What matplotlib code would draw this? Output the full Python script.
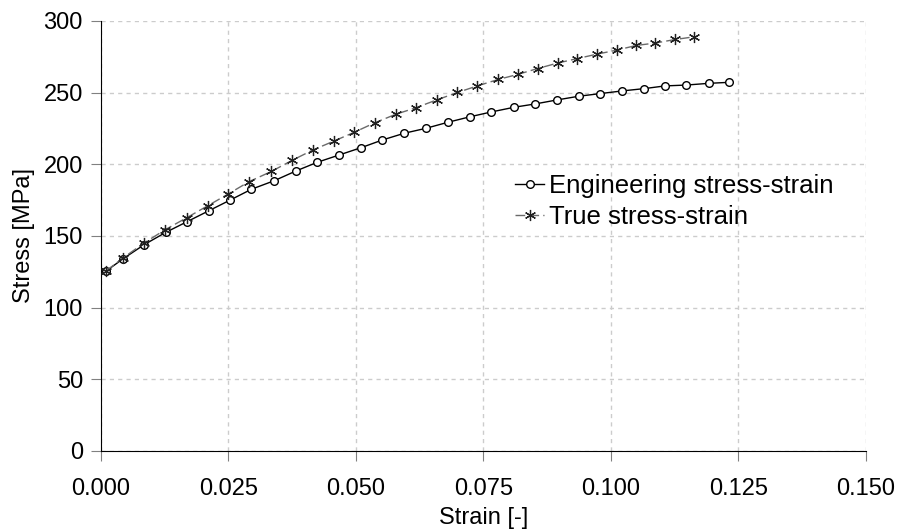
import matplotlib
matplotlib.use('Agg')
import matplotlib.pyplot as plt

plt.rcParams['font.family'] = ['Liberation Sans', 'DejaVu Sans']

# engineering stress-strain
eng_strain = [0.0010, 0.0043, 0.0085, 0.0127, 0.0169, 0.0211, 0.0253, 0.0295,
              0.0340, 0.0382, 0.0424, 0.0467, 0.0510, 0.0552, 0.0595, 0.0637,
              0.0680, 0.0724, 0.0765, 0.0810, 0.0851, 0.0894, 0.0937, 0.0978,
              0.1022, 0.1065, 0.1106, 0.1148, 0.1192, 0.1232]
eng_stress = [125.5, 134.0, 144.0, 152.5, 160.0, 167.5, 175.0, 182.6,
              188.6, 195.3, 201.4, 206.5, 211.6, 217.0, 221.7, 225.1,
              229.3, 233.2, 236.5, 239.8, 242.1, 244.9, 247.5, 249.3,
              251.2, 252.8, 254.7, 255.3, 256.5, 257.2]

# true stress-strain
true_strain = [0.0010, 0.0043, 0.0085, 0.0126, 0.0168, 0.0209, 0.0250, 0.0291,
               0.0334, 0.0375, 0.0415, 0.0456, 0.0497, 0.0537, 0.0578, 0.0617,
               0.0658, 0.0699, 0.0737, 0.0779, 0.0817, 0.0856, 0.0896, 0.0933,
               0.0973, 0.1012, 0.1049, 0.1087, 0.1126, 0.1162]
true_stress = [125.6, 134.6, 145.2, 154.4, 162.7, 171.0, 179.4, 188.0,
               195.0, 202.8, 209.9, 216.1, 222.4, 229.0, 234.9, 239.4,
               244.9, 250.1, 254.6, 259.2, 262.7, 266.8, 270.7, 273.7,
               276.9, 279.7, 282.9, 284.6, 287.1, 288.9]

xticks = [0.000, 0.025, 0.050, 0.075, 0.100, 0.125, 0.150]
yticks = [0, 50, 100, 150, 200, 250, 300]

fig = plt.figure(figsize=(8.99, 5.31), dpi=100)
ax = fig.add_axes([0.1123, 0.1507, 0.851, 0.8098])

ax.plot(eng_strain, eng_stress, color='black', lw=1.0, marker='o', ms=5.5,
        mfc='white', mec='black', mew=1.0, label='Engineering stress-strain', zorder=3)
ax.plot(true_strain, true_stress, color='#6a6a6a', lw=1.0, ls=(0, (7, 3)),
        marker=(6, 2, 0), ms=8, mec='#202020', mew=0.9,
        label='True stress-strain', zorder=3)

ax.set_xlim(0, 0.15)
ax.set_ylim(0, 300)
ax.set_xticks(xticks)
ax.set_xticklabels(['%.3f' % v for v in xticks])
ax.set_yticks(yticks)
ax.grid(True, ls=(0, (3, 3)), color='#cccccc', lw=1.0)
ax.set_axisbelow(True)
for s in ['top', 'right']:
    ax.spines[s].set_visible(False)
ax.tick_params(direction='out', length=7, color='#808080', labelsize=17, pad=6)
ax.tick_params(axis='x', pad=12.5)

ax.set_xlabel('Strain [-]', fontsize=17, labelpad=5)
ax.set_ylabel('Stress [MPa]', fontsize=17, labelpad=6)

ax.legend(loc='upper left', bbox_to_anchor=(0.525, 0.675), frameon=False,
          fontsize=18.5, handlelength=1.1, handletextpad=0.2, borderpad=0,
          labelspacing=0.3)

fig.savefig('out.png', dpi=100)
